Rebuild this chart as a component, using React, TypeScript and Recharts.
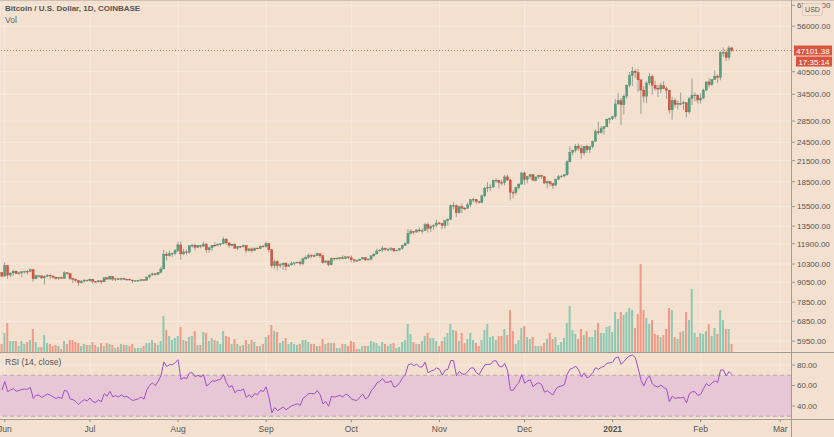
import React from 'react';
import { ComposedChart, Bar, Line, XAxis, YAxis, CartesianGrid, ReferenceLine, ReferenceArea, Cell } from 'recharts';

// BTC/USD daily candles, Coinbase, 2020-05-31 .. 2021-02-12 (index 0 = May 31)
// a daily bar opens at the previous close
const firstOpen = 9700;

const closes = [
  9450,
  // Jun
  10200, 9520, 9665, 9790, 9620, 9670, 9750, 9780, 9770, 9890, 9270, 9470, 9470, 9330, 9430,
  9520, 9460, 9380, 9300, 9360, 9290, 9680, 9630, 9290, 9250, 9160, 9010, 9120, 9190, 9140,
  // Jul
  9240, 9090, 9060, 9140, 9070, 9340, 9250, 9430, 9240, 9280, 9230, 9300, 9240, 9250, 9190, 9130,
  9150, 9170, 9210, 9160, 9390, 9530, 9610, 9550, 9710, 9940, 11050, 10920, 11100, 11110, 11350,
  // Aug
  11800, 11070, 11230, 11190, 11740, 11770, 11600, 11750, 11680, 11880, 11390, 11560, 11780, 11770, 11860, 11910,
  12300, 11970, 11760, 11870, 11520, 11680, 11650, 11760, 11330, 11470, 11330, 11540, 11480, 11710, 11660,
  // Sep
  11920, 11400, 10170, 10470, 10170, 10260, 10370, 10130, 10230, 10340, 10390, 10440, 10330, 10680, 10790,
  10950, 10940, 10930, 11090, 10920, 10420, 10530, 10240, 10740, 10690, 10730, 10780, 10700, 10840, 10780,
  // Oct
  10620, 10570, 10550, 10670, 10790, 10600, 10670, 10920, 11060, 11300, 11380, 11540, 11430, 11430, 11500, 11320,
  11370, 11510, 11750, 11920, 12820, 12990, 12930, 13130, 13040, 13070, 13650, 13280, 13460, 13560, 13800,
  // Nov
  13760, 13550, 14030, 14150, 15590, 15600, 14840, 15480, 15330, 15310, 15700, 16290, 16330, 16070, 15970,
  16730, 17680, 17800, 17820, 18680, 18710, 18420, 18370, 19160, 18730, 17150, 17140, 17720, 18180, 19700,
  // Dec
  18790, 19220, 19450, 18700, 19150, 19380, 19180, 18330, 18550, 18260, 18040, 18810, 19170, 19280, 19450, 21340,
  22800, 23140, 23850, 23480, 22720, 23830, 23240, 23730, 24690, 26440, 26240, 27040, 27370, 28880, 28990,
  // Jan
  29400, 32200, 33000, 32030, 34030, 36820, 39430, 40670, 40240, 38240, 35540, 34010, 37390, 39150, 36770, 36020,
  35800, 36630, 35900, 35470, 30850, 33000, 32100, 32290, 32260, 32500, 30430, 33440, 34300, 34320, 33110,
  // Feb
  33530, 35510, 37670, 36950, 38290, 39260, 38870, 46450, 46500, 44850, 47970, 47101.38,
];

const highs = [
  9700,
  10430, 10230, 9690, 9880, 9850, 9740, 9800, 9800, 9880, 9990, 9950, 9550, 9490, 9480, 9500,
  9580, 9550, 9480, 9400, 9390, 9420, 9790, 9690, 9670, 9330, 9280, 9200, 9190, 9230, 9200,
  9300, 9270, 9130, 9190, 9140, 9370, 9350, 9470, 9450, 9300, 9290, 9330, 9340, 9270, 9270, 9210,
  9180, 9200, 9230, 9220, 9430, 9540, 9680, 9650, 9730, 10110, 11390, 11230, 11340, 11170, 11450,
  12070, 12120, 11480, 11420, 11790, 11910, 11920, 11800, 11800, 12070, 11940, 11630, 11800, 12030, 11960, 11930,
  12480, 12390, 12020, 11890, 11890, 11690, 11710, 11830, 11780, 11540, 11590, 11570, 11580, 11720, 11780,
  12080, 11950, 11460, 10630, 10580, 10360, 10400, 10420, 10350, 10500, 10400, 10480, 10570, 10800, 10950,
  11110, 11040, 11050, 11180, 11090, 10990, 10570, 10550, 10790, 10760, 10800, 10800, 10960, 10860, 10840,
  10950, 10660, 10600, 10690, 10800, 10800, 10700, 10960, 11110, 11490, 11440, 11720, 11560, 11550, 11630, 11540,
  11400, 11530, 11830, 12030, 13220, 13200, 13030, 13170, 13350, 13250, 13790, 13860, 13640, 13680, 14100,
  13900, 13820, 14060, 14250, 15750, 15970, 15770, 15650, 15850, 15480, 15970, 16350, 16480, 16330, 16150,
  16880, 17860, 18480, 18180, 18800, 18970, 18750, 18770, 19420, 19490, 18920, 17460, 17880, 18350, 19860,
  19920, 19300, 19580, 19520, 19170, 19420, 19420, 19300, 18640, 18570, 18280, 18950, 19420, 19350, 19570, 21560,
  23800, 23290, 24170, 24290, 24100, 23840, 24100, 23780, 24790, 26870, 28400, 27500, 27400, 28990, 29300,
  29600, 33300, 34800, 33600, 34500, 36900, 40400, 41950, 41350, 41350, 38250, 36600, 37850, 40100, 39700, 37950,
  36850, 37400, 37850, 36400, 35600, 33850, 33600, 32950, 34900, 32950, 32550, 33800, 38550, 34940, 34400,
  34700, 35900, 37750, 38700, 38350, 40950, 39700, 46800, 48150, 47380, 48680, 48380,
];

const lows = [
  9380,
  9420, 9280, 9380, 9450, 9580, 9530, 9380, 9640, 9570, 9700, 9080, 9250, 9340, 9250, 8900,
  9380, 9240, 9290, 9220, 9200, 9280, 9280, 9560, 9210, 9000, 9040, 8830, 8950, 9020, 9080,
  9090, 8940, 9040, 9040, 8920, 9060, 9220, 9240, 9140, 9120, 9190, 9160, 9200, 9120, 9170, 9000,
  9100, 9130, 9110, 9140, 9150, 9290, 9480, 9470, 9530, 9650, 9940, 10570, 10870, 10830, 10980,
  11220, 10620, 10960, 11010, 11090, 11570, 11350, 11530, 11520, 11640, 11140, 11160, 11280, 11650, 11690, 11690,
  11840, 11820, 11570, 11660, 11500, 11380, 11530, 11600, 11120, 11250, 11150, 11290, 11450, 11470, 11580,
  11590, 11200, 10000, 9970, 9880, 10010, 9880, 9860, 10120, 10210, 10200, 10340, 10210, 10200, 10630,
  10680, 10750, 10820, 10890, 10750, 10290, 10360, 10140, 10200, 10550, 10650, 10600, 10660, 10640, 10660,
  10440, 10380, 10500, 10530, 10630, 10530, 10570, 10550, 10830, 11060, 11280, 11200, 11310, 11290, 11280, 11200,
  11300, 11350, 11410, 11690, 11900, 12700, 12720, 12880, 12920, 12800, 13060, 12900, 12950, 13130, 13440,
  13620, 13200, 13290, 13530, 14100, 15200, 14400, 14720, 14800, 15100, 15270, 15450, 15970, 15760, 15850,
  15880, 16560, 17220, 17340, 17760, 18380, 17620, 18000, 18030, 18580, 16200, 16450, 16880, 17520, 18180,
  18110, 18330, 18900, 18570, 18500, 18870, 18900, 18200, 17650, 17930, 17580, 18030, 18740, 19000, 19060, 19300,
  21230, 22350, 22800, 23070, 21800, 22350, 22720, 22700, 23430, 24510, 25850, 26100, 25880, 27330, 28000,
  28700, 29000, 32000, 27700, 29900, 33400, 36300, 36600, 38700, 35100, 30000, 32500, 32400, 36700, 34400, 35400,
  33850, 34800, 35800, 33400, 30100, 28800, 31400, 30950, 31950, 30850, 29250, 30000, 31950, 32850, 32300,
  32300, 33450, 35400, 36200, 36600, 38200, 37400, 38100, 45000, 43750, 44050, 46600,
];

// volume, thousands of BTC (approx)
const volumes = [
  8,
  19, 29, 11, 11, 11, 6, 11, 8, 10, 12,
  23, 10, 5, 5, 17, 9, 8, 6, 7, 6,
  3, 11, 8, 12, 12, 10, 9, 6, 8, 7,
  7, 10, 7, 5, 9, 6, 9, 8, 7, 4,
  5, 8, 7, 7, 6, 8, 4, 4, 4, 6,
  9, 9, 12, 9, 7, 11, 36, 22, 16, 12,
  14, 16, 25, 12, 11, 15, 16, 21, 7, 7,
  20, 19, 11, 14, 12, 11, 8, 21, 16, 15,
  8, 13, 8, 6, 7, 12, 8, 12, 10, 6,
  6, 8, 15, 17, 27, 21, 20, 9, 11, 14,
  8, 10, 8, 7, 8, 12, 12, 10, 8, 8,
  6, 6, 13, 8, 9, 9, 9, 4, 4, 8,
  8, 6, 11, 10, 3, 3, 6, 6, 6, 11,
  10, 9, 6, 10, 8, 6, 8, 9, 4, 5,
  10, 12, 28, 18, 10, 8, 8, 11, 16, 19,
  14, 14, 11, 6, 11, 15, 19, 28, 22, 21,
  11, 19, 9, 13, 19, 12, 9, 6, 12, 22,
  28, 15, 16, 12, 16, 16, 23, 17, 42, 21,
  8, 12, 24, 26, 15, 13, 15, 6, 6, 6,
  9, 13, 19, 13, 15, 7, 10, 14, 29, 46,
  22, 18, 13, 23, 17, 21, 15, 15, 22, 29,
  19, 19, 25, 26, 20, 40, 33, 40, 37, 40,
  44, 42, 24, 38, 88, 42, 34, 28, 32, 18,
  17, 15, 17, 23, 44, 42, 15, 13, 20, 21,
  40, 32, 63, 19, 15, 19, 18, 21, 28, 16,
  24, 18, 42, 32, 23, 23, 8,
];

// closes 2020-04-16 .. 2020-05-30, only used to seed RSI(14)
const warmupCloses = [
  7120, 7030, 7260, 7130, 6850, 6850, 7140, 7490, 7510, 7540, 7700, 7790, 7760, 8780, 8620,
  8830, 8970, 8900, 8880, 9030, 9150, 9990, 9810, 9540, 8730, 8570, 8820, 9310, 9790, 9320,
  9380, 9680, 9730, 9780, 9510, 9060, 9170, 9180, 8720, 8900, 8840, 9200, 9580, 9420, 9700,
];

const priceTicks = [5950, 6850, 7850, 9050, 10300, 11900, 13500, 15500, 18500, 21500, 24500, 28500, 34500, 40500, 56000, 65000];
const rsiTicks = [40, 60, 80];
const monthTicks = [1, 31, 62, 93, 123, 154, 184, 215, 246, 274];
const monthLabels = ['Jun', 'Jul', 'Aug', 'Sep', 'Oct', 'Nov', 'Dec', '2021', 'Feb', 'Mar'];
const lastPrice = 47101.38;
const countdown = '17:35:14';

const BG = '#f3e0ce';
const GRID = '#f7eadf';
const UP = '#52a07f';
const DOWN = '#d9553f';
const VOL_UP = '#8cc8b2';
const VOL_DOWN = '#f09986';
const TEXT = '#555';
const FONT = '"Liberation Sans", Arial, sans-serif';

// RSI (Wilder smoothing)
function rsi(series: number[], period: number) {
  const out: (number | null)[] = series.map(() => null);
  let avgGain = 0;
  let avgLoss = 0;
  for (let i = 1; i < series.length; i++) {
    const ch = series[i] - series[i - 1];
    const g = Math.max(ch, 0);
    const l = Math.max(-ch, 0);
    if (i <= period) {
      avgGain += g / period;
      avgLoss += l / period;
    } else {
      avgGain = (avgGain * (period - 1) + g) / period;
      avgLoss = (avgLoss * (period - 1) + l) / period;
    }
    if (i >= period) out[i] = avgLoss === 0 ? 100 : 100 - 100 / (1 + avgGain / avgLoss);
  }
  return out;
}

const rsiAll = rsi(warmupCloses.concat(closes), 14);
const rsiValues = rsiAll.slice(warmupCloses.length);

const rows = closes.map((close, i) => {
  const open = i === 0 ? firstOpen : closes[i - 1];
  const high = Math.max(highs[i], open, close);
  const low = Math.min(lows[i], open, close);
  return { i, open, close, high, low, range: [low, high], volume: volumes[i], rsi: rsiValues[i] };
});

const xDomain = [-0.704, 277.8];

const Candle = (props: any) => {
  const { x, y, width, height, payload } = props;
  if (x == null || y == null || !payload) return null;
  const top = Math.min(y, y + height);
  const bottom = Math.max(y, y + height);
  const { open, close, high, low } = payload;
  const span = Math.log(high) - Math.log(low);
  const yOf = (v: number) => (span > 0 ? top + ((Math.log(high) - Math.log(v)) / span) * (bottom - top) : top);
  const cx = x + width / 2;
  const up = close >= open;
  const bTop = yOf(Math.max(open, close));
  const bBot = yOf(Math.min(open, close));
  return (
    <g>
      <line x1={cx} x2={cx} y1={top} y2={bottom} stroke="#8b8b84" strokeWidth={0.8} />
      <rect
        x={cx - 1.1}
        y={bTop}
        width={2.2}
        height={Math.max(bBot - bTop, 0.8)}
        fill={up ? UP : DOWN}
        stroke={up ? '#3f7f63' : '#a8402f'}
        strokeWidth={0.3}
      />
    </g>
  );
};

const PriceTag = (props: any) => {
  const vb = props.viewBox || {};
  const x = vb.x + vb.width + 3;
  const y = vb.y;
  return (
    <g fontFamily={FONT}>
      <rect x={x} y={y - 5} width={38} height={10} fill={DOWN} />
      <text x={x + 19} y={y + 3} fontSize={8} fill="#fff" textAnchor="middle">{lastPrice.toFixed(2)}</text>
      <rect x={x + 2} y={y + 6} width={36} height={10} fill={DOWN} />
      <text x={x + 20} y={y + 14} fontSize={8} fill="#fff" textAnchor="middle">{countdown}</text>
    </g>
  );
};

const MonthTick = (props: any) => {
  const { x, y, payload } = props;
  const label = monthLabels[monthTicks.indexOf(payload.value)];
  return (
    <text x={x} y={y + 8} textAnchor="middle" fontSize={8.5} fill={TEXT} fontFamily={FONT} fontWeight={label === '2021' ? 700 : 400}>
      {label}
    </text>
  );
};

const axisTick = { fontSize: 8, fill: TEXT, fontFamily: FONT };

export default function App() {
  return (
    <div style={{ position: 'absolute', left: 0, top: 0, width: 834, height: 437, background: BG, overflow: 'hidden', fontFamily: FONT }}>
      <div style={{ position: 'absolute', left: 0, top: 0 }}>
        <ComposedChart width={834} height={352} data={rows} margin={{ top: 0, right: 0, bottom: 0, left: 0 }}>
          <XAxis xAxisId="vol" dataKey="i" type="number" domain={xDomain} allowDataOverflow hide />
          <XAxis xAxisId="px" dataKey="i" type="number" domain={xDomain} allowDataOverflow hide ticks={monthTicks} interval={0} />
          <YAxis yAxisId="vol" domain={[0, 352]} allowDataOverflow hide />
          <YAxis
            yAxisId="price"
            orientation="right"
            scale="log"
            domain={[5505, 67500]}
            allowDataOverflow
            ticks={priceTicks}
            interval={0}
            width={43}
            axisLine={false}
            tickLine={{ stroke: '#999' }}
            tickSize={4}
            tick={axisTick}
            tickFormatter={(v: number) => v.toFixed(2)}
          />
          <CartesianGrid xAxisId="px" yAxisId="price" stroke={GRID} strokeWidth={1} />
          <Bar xAxisId="vol" yAxisId="vol" dataKey="volume" barSize={2} isAnimationActive={false}>
            {rows.map((r) => (
              <Cell key={r.i} fill={r.close >= r.open ? VOL_UP : VOL_DOWN} />
            ))}
          </Bar>
          <ReferenceLine
            xAxisId="px"
            yAxisId="price"
            y={lastPrice}
            stroke="#e2806c"
            strokeDasharray="1 2"
            label={<PriceTag />}
          />
          <Bar xAxisId="px" yAxisId="price" dataKey="range" barSize={3} shape={<Candle />} isAnimationActive={false} />
        </ComposedChart>
      </div>

      <div style={{ position: 'absolute', left: 0, top: 352 }}>
        <ComposedChart width={834} height={85} data={rows} margin={{ top: 0, right: 0, bottom: 0, left: 0 }}>
          <XAxis
            dataKey="i"
            type="number"
            domain={xDomain}
            allowDataOverflow
            ticks={monthTicks}
            interval={0}
            height={18}
            axisLine={false}
            tickLine={{ stroke: '#8a8580' }}
            tickSize={3}
            tick={<MonthTick />}
          />
          <YAxis
            orientation="right"
            domain={[27.3, 92.7]}
            allowDataOverflow
            ticks={rsiTicks}
            interval={0}
            width={43}
            axisLine={false}
            tickLine={{ stroke: '#999' }}
            tickSize={4}
            tick={axisTick}
            tickFormatter={(v: number) => v.toFixed(2)}
          />
          <CartesianGrid stroke={GRID} strokeWidth={1} />
          <ReferenceArea y1={30} y2={70} fill="#e7c7d5" fillOpacity={1} stroke="none" />
          <ReferenceLine y={70} stroke="#b9a8a8" strokeDasharray="4 3" />
          <ReferenceLine y={30} stroke="#b9a8a8" strokeDasharray="4 3" />
          <Line dataKey="rsi" stroke="#a04fc8" strokeWidth={1} dot={false} isAnimationActive={false} connectNulls />
        </ComposedChart>
      </div>

      {/* pane borders */}
      <div style={{ position: 'absolute', left: 0, top: 0, width: 834, height: 1, background: '#cdbfb2' }} />
      <div style={{ position: 'absolute', left: 0, top: 352, width: 834, height: 1, background: '#a39a92' }} />
      <div style={{ position: 'absolute', left: 0, top: 419, width: 834, height: 1, background: '#a39a92' }} />
      <div style={{ position: 'absolute', left: 791, top: 0, width: 1, height: 437, background: '#a39a92' }} />

      {/* legends */}
      <div style={{ position: 'absolute', left: 5, top: 4, fontSize: 8, fontWeight: 700, color: TEXT, whiteSpace: 'nowrap' }}>
        Bitcoin / U.S. Dollar, 1D, COINBASE
      </div>
      <div style={{ position: 'absolute', left: 5, top: 15, fontSize: 8.5, color: '#666' }}>Vol</div>
      <div style={{ position: 'absolute', left: 5, top: 357, fontSize: 8.5, color: TEXT, whiteSpace: 'nowrap' }}>RSI (14, close)</div>
      <div
        style={{
          position: 'absolute',
          left: 802,
          top: 3,
          width: 19,
          height: 11,
          border: '1px solid #ddcdbd',
          borderRadius: 2,
          background: BG,
          fontSize: 7,
          lineHeight: '11px',
          textAlign: 'center',
          color: TEXT,
        }}
      >
        USD
      </div>
    </div>
  );
}
